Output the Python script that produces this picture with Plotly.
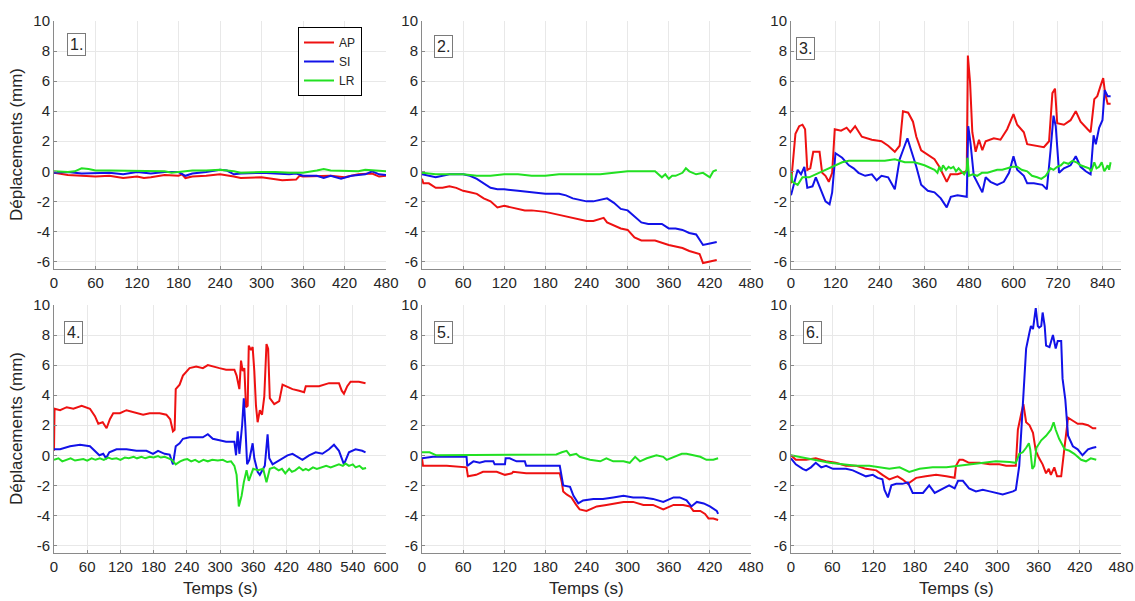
import plotly.graph_objects as go

# ---------------- Data ----------------
# Panel 1
p1_ap_t = [0,10,20,40,60,80,100,120,130,140,160,180,185,190,200,220,240,260,270,300,320,330,350,355,360,380,400,420,440,460,470,480]
p1_ap_y = [-0.1,-0.2,-0.25,-0.3,-0.35,-0.3,-0.45,-0.35,-0.45,-0.4,-0.25,-0.3,-0.2,-0.45,-0.35,-0.3,-0.2,-0.35,-0.45,-0.4,-0.5,-0.6,-0.55,-0.3,-0.35,-0.3,-0.3,-0.4,-0.2,-0.15,-0.35,-0.3]
p1_si_t = [0,20,40,60,80,100,120,140,160,180,190,200,210,220,240,250,260,270,300,320,340,350,360,380,390,400,415,430,450,460,470,480]
p1_si_y = [-0.1,-0.05,-0.15,-0.15,-0.1,-0.2,-0.05,-0.15,-0.05,-0.05,-0.3,-0.15,-0.1,-0.05,0.1,0.05,-0.2,-0.15,-0.1,-0.15,-0.2,-0.15,-0.3,-0.3,-0.45,-0.3,-0.5,-0.3,-0.2,0.0,-0.2,-0.25]
p1_lr_t = [0,20,30,40,50,60,80,100,120,140,160,170,180,200,220,240,260,270,300,320,340,360,380,390,400,420,440,450,460,480]
p1_lr_y = [0,-0.05,0.0,0.2,0.15,0.05,0.05,0.05,0.05,0.0,0.0,-0.1,-0.05,0.05,0.05,0.1,0.0,-0.1,-0.05,-0.05,-0.1,-0.1,0.05,0.15,0.05,0.0,0.0,0.1,0.05,0.0]

# Panel 2
p2_ap_t = [0,2,10,20,30,40,50,60,70,80,90,100,110,120,130,140,150,160,180,200,220,240,250,260,265,270,280,290,300,310,320,340,360,380,390,400,405,410,420,430]
p2_ap_y = [-0.5,-0.8,-0.8,-1.1,-1.1,-1.0,-1.1,-1.3,-1.4,-1.5,-1.8,-2.0,-2.4,-2.3,-2.4,-2.5,-2.6,-2.6,-2.7,-2.9,-3.1,-3.3,-3.3,-3.2,-3.1,-3.4,-3.6,-3.8,-3.9,-4.4,-4.6,-4.6,-4.9,-5.1,-5.3,-5.4,-5.5,-6.1,-6.0,-5.9]
p2_si_t = [0,10,20,30,40,60,70,80,90,100,110,120,140,160,180,200,210,220,230,240,250,260,270,280,290,300,310,320,330,340,350,360,370,380,390,400,410,420,430]
p2_si_y = [-0.2,-0.3,-0.4,-0.3,-0.2,-0.2,-0.3,-0.5,-0.8,-1.1,-1.2,-1.2,-1.3,-1.4,-1.5,-1.5,-1.6,-1.8,-1.9,-2.0,-2.0,-1.9,-1.8,-2.1,-2.5,-2.6,-3.0,-3.4,-3.5,-3.5,-3.5,-3.8,-3.8,-3.9,-4.1,-4.2,-4.9,-4.8,-4.7]
p2_lr_t = [0,20,40,60,80,100,120,140,160,180,200,220,240,260,280,300,320,340,350,355,360,365,370,380,385,390,395,400,410,420,425,430]
p2_lr_y = [-0.1,-0.2,-0.2,-0.2,-0.3,-0.3,-0.2,-0.2,-0.3,-0.3,-0.2,-0.2,-0.2,-0.2,-0.1,0.0,0.0,0.0,-0.4,-0.2,-0.5,-0.3,-0.3,-0.1,0.2,0.0,-0.1,-0.2,-0.1,-0.4,0.0,0.1]

# Panel 3
p3_ap_t = [0,12,22,31,38,44,52,60,77,84,93,102,111,118,135,150,160,173,191,218,244,262,280,293,302,316,329,338,351,369,387,400,413,420,430,449,474,477,483,489,498,507,516,525,547,565,583,600,610,628,637,655,682,696,705,712,718,736,754,768,781,800,808,818,826,835,842,847,854,862]
p3_ap_y = [-0.8,2.5,3.0,3.1,2.8,0.1,0.2,1.3,1.3,-0.1,-0.3,-0.7,-0.1,2.8,2.7,2.9,2.6,3.0,2.3,2.1,2.0,1.7,1.3,1.7,4.0,3.9,3.3,2.3,1.4,1.1,0.8,0.3,-0.3,-0.7,-0.2,-0.2,0.0,7.7,5.9,2.6,1.3,2.1,1.4,2.0,2.2,2.1,2.8,3.8,3.1,2.6,1.8,1.7,1.6,2.0,5.2,5.5,3.2,3.1,3.4,4.0,3.3,2.8,2.6,4.8,5.0,5.7,6.2,5.2,4.5,4.5]
p3_si_t = [0,9,18,27,36,44,58,67,80,93,104,111,120,138,156,169,182,200,218,231,244,262,280,293,302,314,324,338,351,369,387,404,420,431,449,474,478,484,493,502,516,525,538,556,574,588,600,610,628,637,655,678,690,700,708,714,723,736,754,768,781,795,808,816,822,831,840,846,854,862]
p3_si_y = [-1.6,-0.8,0.1,-0.2,0.3,-1.1,-1.0,-0.4,-1.2,-2.0,-2.2,-1.4,1.2,0.9,0.4,0.2,-0.1,-0.3,-0.2,-0.6,-0.3,-0.4,-1.2,0.8,1.4,2.2,1.4,0.3,-0.9,-1.3,-1.4,-1.8,-2.4,-1.7,-1.6,-1.7,3.0,1.9,-0.3,-0.7,-1.4,-0.4,-0.7,-0.9,-0.7,-0.1,1.0,0.1,-0.3,-0.8,-0.8,-0.9,-1.2,1.4,3.7,3.0,-0.1,0.2,0.4,1.0,0.3,0.0,-0.2,2.4,1.8,2.9,3.4,5.4,5.0,5.0]
p3_lr_t = [0,4,18,31,49,67,84,102,120,138,156,173,200,227,253,280,307,333,360,387,395,400,405,410,418,425,431,438,445,452,460,467,474,476,480,490,502,515,530,545,556,570,583,597,610,622,637,650,664,675,687,695,700,708,718,728,736,748,759,770,781,792,804,810,818,824,831,838,845,850,854,858,862]
p3_lr_y = [-0.1,-0.7,-0.9,-0.4,-0.4,-0.2,0.0,0.2,0.4,0.6,0.7,0.7,0.7,0.7,0.7,0.8,0.6,0.6,0.4,0.1,-0.1,0.3,0.0,0.4,0.1,0.3,0.2,0.3,0.0,0.2,0.0,-0.2,0.1,0.9,-0.3,-0.2,-0.3,-0.1,-0.1,0.0,0.1,0.1,0.2,0.3,0.3,0.1,0.0,-0.3,-0.4,-0.5,-0.3,0.0,0.2,0.1,0.3,0.4,0.6,0.5,0.7,0.6,0.4,0.3,0.2,0.0,0.6,0.2,0.3,0.6,0.0,0.2,0.4,0.1,0.6]

# Panel 4
p4_ap_t = [0,1,11,23,35,50,65,74,80,88,95,101,107,119,131,149,161,173,191,203,210,215,218,220,227,233,245,257,269,278,287,299,311,326,330,335,338,341,344,347,350,352,356,359,362,365,368,372,376,380,384,387,390,398,407,413,419,431,443,452,455,467,479,497,515,520,524,530,536,551,563]
p4_ap_y = [0.3,3.1,3.0,3.2,3.1,3.3,3.1,2.6,2.1,2.2,1.8,2.4,2.8,2.8,3.0,2.8,2.7,2.8,2.8,2.7,2.4,1.6,1.7,4.4,4.7,5.3,5.8,5.9,5.8,6.0,5.9,5.8,5.7,5.7,5.3,4.4,6.3,5.6,5.8,3.2,3.3,7.3,7.0,7.2,5.6,3.3,2.2,3.0,2.7,3.9,7.4,7.1,3.8,3.4,3.6,4.7,4.6,4.4,4.3,4.2,4.6,4.6,4.6,4.8,4.8,4.3,4.1,4.6,4.9,4.9,4.8]
p4_si_t = [0,11,29,47,65,74,82,89,94,100,113,131,149,167,179,188,200,209,215,220,227,233,245,257,269,278,287,299,311,326,329,332,335,340,343,346,349,353,359,362,368,372,377,381,386,389,395,404,413,422,431,440,449,461,473,485,497,506,515,521,524,533,545,557,563]
p4_si_y = [0.4,0.4,0.6,0.7,0.6,0.3,0.0,0.1,-0.2,0.2,0.4,0.4,0.3,0.3,0.1,0.3,0.1,0.05,-0.6,0.6,0.8,1.1,1.2,1.2,1.2,1.4,1.1,1.0,0.9,0.9,0.0,1.6,0.1,2.0,3.8,1.8,-0.6,-0.3,0.8,-0.2,-1.1,-1.3,-1.0,-0.7,1.4,-0.2,-0.6,-0.4,-0.2,0.0,0.1,-0.1,-0.3,0.0,0.2,0.1,0.4,0.7,0.3,-0.3,-0.6,0.2,0.4,0.3,0.2]
p4_lr_t = [0,8,15,23,30,38,45,53,60,68,75,83,90,98,105,113,120,128,135,144,150,158,165,173,180,188,193,200,207,213,220,228,235,241,248,255,262,270,278,286,296,305,313,320,326,330,334,339,343,348,352,360,369,378,384,390,398,406,412,418,425,430,436,443,450,455,460,468,475,485,492,500,509,515,522,527,533,540,545,552,558,564]
p4_lr_y = [-0.3,-0.2,-0.4,-0.3,-0.2,-0.35,-0.3,-0.25,-0.35,-0.2,-0.3,-0.2,-0.3,-0.15,-0.25,-0.2,-0.3,-0.15,-0.2,-0.1,-0.2,-0.1,-0.2,-0.1,-0.15,-0.05,-0.15,-0.1,-0.2,-0.3,-0.6,-0.4,-0.3,-0.25,-0.4,-0.3,-0.45,-0.3,-0.4,-0.3,-0.35,-0.3,-0.45,-0.4,-0.7,-1.3,-3.4,-2.7,-1.8,-1.0,-1.7,-0.9,-1.0,-0.9,-1.8,-0.9,-0.8,-1.0,-0.9,-1.2,-0.9,-1.1,-1.0,-0.8,-1.0,-0.9,-1.0,-0.8,-0.9,-0.8,-0.7,-0.8,-0.7,-0.6,-0.7,-0.55,-0.7,-0.6,-0.8,-0.7,-0.9,-0.85]

# Panel 5
p5_ap_t = [0,1.5,21,36,65,67,79,89,109,121,131,133,152,201,204,206,211,218,225,230,240,255,269,279,294,308,323,337,352,367,381,391,396,406,413,418,425,432]
p5_ap_y = [-0.2,-0.7,-0.7,-0.7,-0.8,-1.4,-1.3,-1.1,-1.1,-1.3,-1.2,-1.1,-1.2,-1.2,-1.8,-2.4,-2.6,-2.8,-3.3,-3.6,-3.7,-3.4,-3.3,-3.2,-3.1,-3.1,-3.3,-3.3,-3.6,-3.3,-3.3,-3.4,-3.7,-3.7,-3.9,-4.2,-4.2,-4.3]
p5_si_t = [0,16,65,66,75,84,92,104,106,121,122,128,133,138,150,152,201,204,206,216,221,228,235,250,264,279,294,308,323,337,352,367,376,386,393,401,411,420,430,432]
p5_si_y = [-0.2,-0.1,-0.1,-0.7,-0.4,-0.5,-0.4,-0.4,-0.6,-0.6,-0.2,-0.2,-0.3,-0.4,-0.4,-0.7,-0.7,-1.4,-2.0,-2.1,-2.7,-3.2,-3.0,-2.9,-2.9,-2.8,-2.7,-2.8,-2.8,-2.9,-3.1,-2.8,-2.8,-3.0,-3.4,-3.1,-3.2,-3.4,-3.7,-3.9]
p5_lr_t = [0,11,21,84,133,196,204,211,216,225,230,245,260,269,279,294,303,311,318,328,342,352,357,367,379,386,396,406,415,425,432]
p5_lr_y = [0.2,0.2,0.0,0.0,0.05,0.05,0.2,0.3,0.0,0.1,-0.1,-0.3,-0.4,-0.2,-0.4,-0.4,-0.5,-0.1,-0.4,-0.2,0.0,-0.1,-0.3,-0.1,0.1,0.1,0.0,-0.1,-0.3,-0.3,-0.2]

# Panel 6
p6_ap_t = [0,7,22,36,51,65,80,95,109,124,133,143,155,162,170,177,182,196,211,226,238,240,245,250,259,274,289,303,313,327,330,335,338,342,347,352,356,361,366,371,375,378,383,387,393,398,403,410,417,424,432,439,444]
p6_ap_y = [0.0,-0.3,-0.3,-0.2,-0.4,-0.5,-0.7,-0.7,-0.9,-1.0,-1.3,-1.6,-1.4,-1.6,-1.9,-1.7,-1.5,-1.4,-1.3,-1.4,-1.5,-0.7,-0.3,-0.3,-0.5,-0.5,-0.6,-0.6,-0.7,-0.7,1.7,2.8,3.4,2.2,2.0,1.5,0.3,-0.2,-0.6,-1.2,-0.9,-1.3,-0.8,-1.4,-1.4,0.6,2.5,2.3,2.1,2.1,2.0,1.8,1.8]
p6_si_t = [0,7,17,22,29,36,44,51,61,70,80,90,99,109,119,126,133,136,141,146,153,162,170,177,192,201,209,218,230,238,243,250,259,269,279,289,298,308,323,327,332,337,340,342,347,349,352,354,356,359,361,364,366,369,371,376,381,385,388,393,395,399,403,410,417,424,432,439,444]
p6_si_y = [-0.2,-0.6,-0.9,-1.0,-0.8,-0.5,-0.8,-0.7,-0.9,-0.9,-0.9,-1.0,-1.2,-1.4,-1.3,-1.5,-1.6,-2.3,-2.8,-2.0,-1.9,-1.9,-1.8,-2.5,-2.5,-2.0,-2.5,-2.3,-2.0,-2.2,-1.7,-1.7,-2.2,-2.4,-2.3,-2.4,-2.5,-2.6,-2.4,-2.3,-0.7,3.1,5.3,7.1,8.2,8.6,8.4,9.3,9.8,8.6,8.5,8.6,9.5,8.6,7.3,7.2,8.0,7.1,7.6,7.6,5.1,3.7,1.3,0.6,0.4,0.0,0.4,0.5,0.55]
p6_lr_t = [0,17,36,56,75,95,114,133,143,158,172,187,206,226,245,264,279,298,318,327,332,337,342,346,348,351,354,357,364,371,378,382,385,390,398,405,412,422,429,436,444]
p6_lr_y = [0.0,-0.15,-0.3,-0.5,-0.6,-0.7,-0.7,-0.8,-0.9,-0.8,-1.1,-0.9,-0.8,-0.8,-0.7,-0.6,-0.5,-0.4,-0.45,-0.5,0.1,0.2,0.5,0.8,0.4,-0.9,-0.7,0.5,1.0,1.3,1.7,2.2,1.7,1.1,0.4,0.3,0.1,-0.3,-0.4,-0.2,-0.3]

series_names = ["AP", "SI", "LR"]
panel_labels = ["1.", "2.", "3.", "4.", "5.", "6."]
y_title = "Déplacements (mm)"
x_title = "Temps (s)"
y_ticks = [-6, -4, -2, 0, 2, 4, 6, 8, 10]
x_ticks_480 = [0, 60, 120, 180, 240, 300, 360, 420, 480]
x_ticks_3 = [0, 120, 240, 360, 480, 600, 720, 840]
x_ticks_4 = [0, 60, 120, 180, 240, 300, 360, 420, 480, 540, 600]
x_ranges = [[0, 480], [0, 480], [0, 890], [0, 600], [0, 480], [0, 480]]

panels = [
    [(p1_ap_t, p1_ap_y), (p1_si_t, p1_si_y), (p1_lr_t, p1_lr_y)],
    [(p2_ap_t, p2_ap_y), (p2_si_t, p2_si_y), (p2_lr_t, p2_lr_y)],
    [(p3_ap_t, p3_ap_y), (p3_si_t, p3_si_y), (p3_lr_t, p3_lr_y)],
    [(p4_ap_t, p4_ap_y), (p4_si_t, p4_si_y), (p4_lr_t, p4_lr_y)],
    [(p5_ap_t, p5_ap_y), (p5_si_t, p5_si_y), (p5_lr_t, p5_lr_y)],
    [(p6_ap_t, p6_ap_y), (p6_si_t, p6_si_y), (p6_lr_t, p6_lr_y)],
]
x_tick_sets = [x_ticks_480, x_ticks_480, x_ticks_3, x_ticks_4, x_ticks_480, x_ticks_480]

# ---------------- Styling ----------------
colors = ["#ee1111", "#1212e8", "#22e022"]
FONT = "Liberation Sans, Arial, sans-serif"
TXT = "#262626"
AXC = "#8a8a8a"
GRID = "#e8e8e8"

W, H = 1135, 601
col_px = [(54, 386), (422, 751), (791, 1121)]
row_px = [(21, 269), (305, 553)]
col_dom = [[a / W, b / W] for a, b in col_px]
row_dom = [[1 - b / H, 1 - a / H] for a, b in row_px]

fig = go.Figure()
for i, pdata in enumerate(panels):
    idx = "" if i == 0 else str(i + 1)
    for k, (t, y) in enumerate(pdata):
        fig.add_trace(go.Scatter(
            x=t, y=y, mode="lines", name=series_names[k],
            line=dict(color=colors[k], width=2),
            xaxis="x" + idx, yaxis="y" + idx,
            showlegend=(i == 0), hoverinfo="skip"))

layout = dict(
    width=W, height=H, autosize=False, margin=dict(l=0, r=0, t=0, b=0, pad=0),
    paper_bgcolor="white", plot_bgcolor="white",
    font=dict(family=FONT, size=15, color=TXT),
    legend=dict(x=362 / W, y=1 - 27 / H, xanchor="right", yanchor="top",
                bgcolor="white", bordercolor="#000000", borderwidth=1,
                font=dict(size=12, color=TXT), tracegroupgap=0,
                itemwidth=30),
    annotations=[], showlegend=True,
)

label_pos = [(76, 44), (443, 46), (806, 48), (73, 333), (443, 332), (813, 332)]

for i in range(6):
    r, c = divmod(i, 3)
    idx = "" if i == 0 else str(i + 1)
    xa = dict(domain=col_dom[c], range=x_ranges[i], anchor="y" + idx,
              tickvals=x_tick_sets[i], ticktext=[str(v) for v in x_tick_sets[i]],
              showgrid=True, gridcolor=GRID, gridwidth=1, zeroline=False,
              showline=True, linecolor=AXC, linewidth=1, automargin=False,
              ticks="inside", ticklen=3, tickcolor=AXC,
              tickfont=dict(size=15, color=TXT), fixedrange=True)
    ya = dict(domain=row_dom[r], range=[-6.5, 10], anchor="x" + idx,
              tickvals=y_ticks, ticktext=[str(v) for v in y_ticks],
              showgrid=True, gridcolor=GRID, gridwidth=1, zeroline=False,
              showline=True, linecolor=AXC, linewidth=1, automargin=False,
              ticks="inside", ticklen=3, tickcolor=AXC,
              tickfont=dict(size=15, color=TXT), fixedrange=True)
    layout["xaxis" + idx] = xa
    layout["yaxis" + idx] = ya
    lx, ly = label_pos[i]
    layout["annotations"].append(dict(
        text=panel_labels[i], x=lx / W, y=1 - ly / H, xref="paper", yref="paper",
        showarrow=False, font=dict(size=16, color=TXT),
        bgcolor="white", bordercolor="#7a7a7a", borderwidth=1, borderpad=2,
        xanchor="center", yanchor="middle"))

# Axis titles as text annotations placed beside the axes
for r in range(2):
    ymid = (row_px[r][0] + row_px[r][1]) / 2
    layout["annotations"].append(dict(
        text=y_title, x=16 / W, y=1 - ymid / H, xref="paper", yref="paper",
        showarrow=False, textangle=-90, font=dict(size=17, color=TXT),
        xanchor="center", yanchor="middle"))
for c in range(3):
    xmid = (col_px[c][0] + col_px[c][1]) / 2
    layout["annotations"].append(dict(
        text=x_title, x=xmid / W, y=1 - 588 / H, xref="paper", yref="paper",
        showarrow=False, font=dict(size=17, color=TXT),
        xanchor="center", yanchor="middle"))

fig.update_layout(**layout)
fig.write_html(
    "out.html",
    config={"displayModeBar": False, "staticPlot": True},
    post_script="document.body.style.margin='0';document.body.style.overflow='hidden';",
)
